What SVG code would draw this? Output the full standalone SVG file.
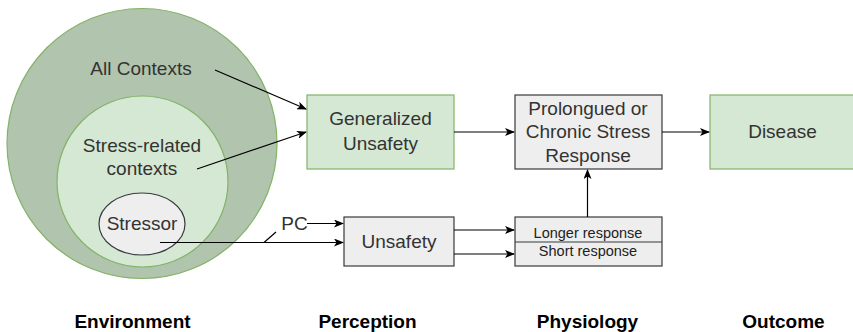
<svg xmlns="http://www.w3.org/2000/svg" width="853" height="332" viewBox="0 0 853 332">
  <defs>
    <marker id="arr" viewBox="0 0 10 8" refX="9" refY="4" markerWidth="10" markerHeight="8" markerUnits="userSpaceOnUse" orient="auto">
      <path d="M0,0 L10,4 L0,8 L2.5,4 z" fill="#000"/>
    </marker>
    <style>
      text { font-family: "Liberation Sans", Arial, sans-serif; }
      .t { font-size: 19px; fill: #333333; text-anchor: middle; }
      .s { font-size: 14.5px; fill: #222222; text-anchor: middle; }
      .h { font-size: 19px; font-weight: bold; fill: #000; text-anchor: middle; }
      .green { fill: #d5e8d4; stroke: #82b366; stroke-width: 1.2; }
      .gray { fill: #eeeeee; stroke: #36393d; stroke-width: 1.2; }
      .c { fill: none; stroke: #000; stroke-width: 1.2; }
    </style>
  </defs>
  <rect width="853" height="332" fill="#ffffff"/>

  <g id="all-contexts">
    <circle cx="142" cy="143.5" r="135" fill="#b0c4ae" stroke="#82b366" stroke-width="1.2"/>
    <text class="t" x="141" y="75">All Contexts</text>
  </g>
  <g id="stress-related">
    <circle cx="142.5" cy="181.5" r="85.5" class="green"/>
    <text class="t" x="142" y="152">Stress-related</text>
    <text class="t" x="142" y="175">contexts</text>
  </g>
  <g id="stressor">
    <ellipse cx="142" cy="224" rx="43" ry="31" class="gray"/>
    <text class="t" x="142" y="230">Stressor</text>
  </g>

  <g id="generalized-unsafety">
    <rect x="307" y="95" width="147" height="74" class="green"/>
    <text class="t" x="380.5" y="125">Generalized</text>
    <text class="t" x="380.5" y="150">Unsafety</text>
  </g>
  <g id="unsafety">
    <rect x="344" y="217" width="110" height="49" class="gray"/>
    <text class="t" x="399" y="248">Unsafety</text>
  </g>
  <g id="chronic-response">
    <rect x="515" y="95" width="147" height="74" class="gray"/>
    <text class="t" x="588" y="115">Prolongued or</text>
    <text class="t" x="588" y="138">Chronic Stress</text>
    <text class="t" x="588" y="162">Response</text>
  </g>
  <g id="response">
    <rect x="515" y="217" width="147" height="49" class="gray"/>
    <line x1="515" y1="242" x2="662" y2="242" stroke="#36393d" stroke-width="1.2"/>
    <text class="s" x="588" y="238">Longer response</text>
    <text class="s" x="588" y="256">Short response</text>
  </g>
  <g id="disease">
    <rect x="710" y="95" width="147" height="74" class="green"/>
    <text class="t" x="782.5" y="138">Disease</text>
  </g>

  <g id="connectors">
    <line class="c" x1="215" y1="70" x2="306" y2="109" marker-end="url(#arr)"/>
    <line class="c" x1="197" y1="169" x2="306" y2="132" marker-end="url(#arr)"/>
    <line class="c" x1="160" y1="242.5" x2="343" y2="242.5" marker-end="url(#arr)"/>
    <line class="c" x1="264" y1="242.5" x2="276" y2="232"/>
    <text x="294.5" y="230" style="font-size:19px;fill:#333333;text-anchor:middle">PC</text>
    <line class="c" x1="307" y1="223.5" x2="343" y2="223.5" marker-end="url(#arr)"/>
    <line class="c" x1="454" y1="230" x2="514" y2="230" marker-end="url(#arr)"/>
    <line class="c" x1="454" y1="254" x2="514" y2="254" marker-end="url(#arr)"/>
    <line class="c" x1="454" y1="132" x2="514" y2="132" marker-end="url(#arr)"/>
    <line class="c" x1="662" y1="132" x2="709" y2="132" marker-end="url(#arr)"/>
    <line class="c" x1="587.5" y1="217" x2="587.5" y2="170" marker-end="url(#arr)"/>
  </g>

  <g id="column-labels">
    <text class="h" x="132.5" y="328">Environment</text>
    <text class="h" x="367.5" y="328">Perception</text>
    <text class="h" x="587.5" y="328">Physiology</text>
    <text class="h" x="783.5" y="328">Outcome</text>
  </g>
</svg>
